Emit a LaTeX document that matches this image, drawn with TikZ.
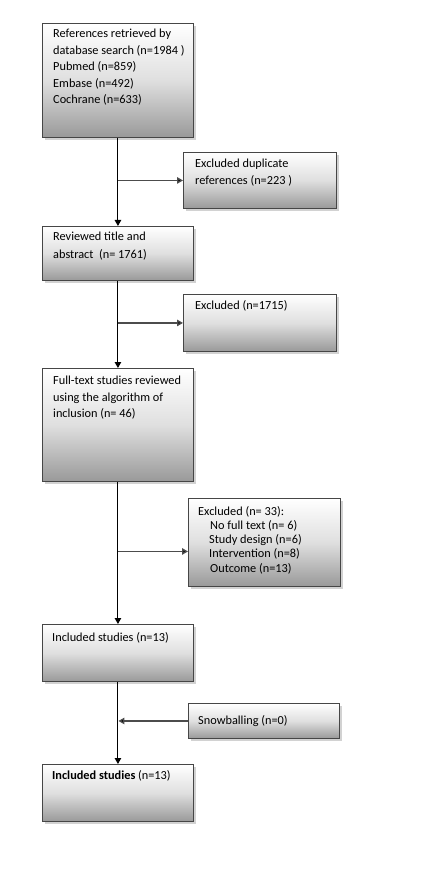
\documentclass[tikz,border=0pt]{standalone}
\usepackage{fontspec}
\setmainfont{Carlito}
\usetikzlibrary{arrows.meta,shadows}

\begin{document}
\begin{tikzpicture}[x=1pt,y=-1pt,
  box/.style={draw=gray!55!black, line width=0.9pt, top color=white, bottom color=gray!80, middle color=gray!25,
    anchor=north west, inner sep=0pt, drop shadow={shadow xshift=2.2pt, shadow yshift=-2.2pt, fill=gray!35, opacity=1}},
  txt/.style={anchor=north west, inner sep=0pt, align=left, font=\fontsize{12.3}{16.5}\selectfont},
  main/.style={line width=1pt, -{Triangle[length=6pt,width=6.5pt]}},
  branch/.style={line width=1.3pt, draw=gray!60!black, -{Triangle[length=6pt,width=6.5pt,fill=black]}}]
\useasboundingbox (0,0) rectangle (433,874);
% boxes
\node[box, minimum width=151, minimum height=114] (b1) at (42,23) {};
\node[box, minimum width=153, minimum height=56] (b2) at (183,152) {};
\node[box, minimum width=151, minimum height=54] (b3) at (42,226) {};
\node[box, minimum width=153, minimum height=57] (b4) at (183,294) {};
\node[box, minimum width=151, minimum height=113] (b5) at (42,368) {};
\node[box, minimum width=152, minimum height=88] (b6) at (188,498) {};
\node[box, minimum width=151, minimum height=57] (b7) at (42,624) {};
\node[box, minimum width=151, minimum height=35] (b8) at (188,703) {};
\node[box, minimum width=151, minimum height=57] (b9) at (42,764) {};
% texts
\node[txt] (t1) at (53,29) {References retrieved by\\database search (n=1984 )\\Pubmed (n=859)\\Embase (n=492)\\Cochrane (n=633)};
\node[txt] (t2) at (195,159) {Excluded duplicate\\references (n=223 )};
\node[txt, font=\fontsize{12.3}{18}\selectfont] (t3) at (53,232) {Reviewed title and\\abstract\ \ (n= 1761)};
\node[txt] (t4) at (195,300) {Excluded (n=1715)};
\node[txt] (t5) at (53,376) {Full-text studies reviewed\\using the algorithm of\\inclusion (n= 46)};
\node[txt, font=\fontsize{12.3}{14.2}\selectfont] (t6) at (198,506) {Excluded (n= 33):\\\hspace*{12pt}No full text (n= 6)\\\hspace*{11pt}Study design (n=6)\\\hspace*{11pt}Intervention (n=8)\\\hspace*{12pt}Outcome (n=13)};
\node[txt] (t7) at (52,632) {Included studies (n=13)};
\node[txt] (t8) at (198,715) {Snowballing (n=0)};
\node[txt] (t9) at (52,770) {\textbf{Included studies} (n=13)};
% arrows
\draw[main] (b1.south) -- (b3.north);
\draw[main] (b3.south) -- (b5.north);
\draw[main] (b5.south) -- (b7.north);
\draw[main] (b7.south) -- (b9.north);
\draw[branch] (b1.south |- b2.west) -- (b2.west);
\draw[branch] (b3.south |- b4.west) -- (b4.west);
\coordinate (c6) at ([yshift=-9pt]b6.west);
\draw[branch] (b5.south |- c6) -- (c6);
\draw[branch] (b8.west) -- ([xshift=0.5pt]b7.south |- b8.west);
\end{tikzpicture}
\end{document}
